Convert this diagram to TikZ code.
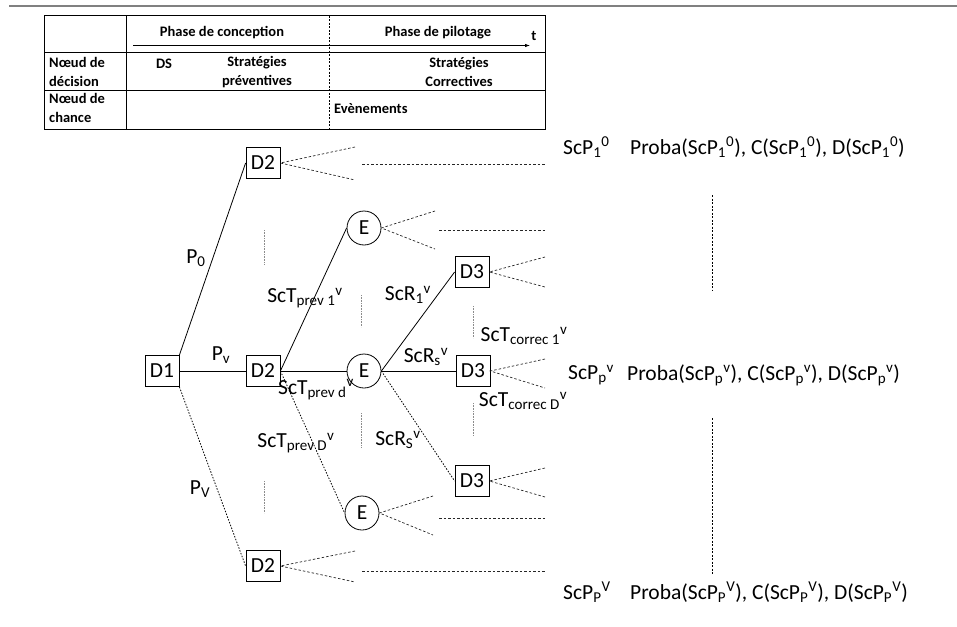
\documentclass[tikz,border=0pt]{standalone}
\usepackage{fontspec}
\setmainfont{Carlito}
\usetikzlibrary{arrows.meta}
\begin{document}
\begin{tikzpicture}[x=1pt,y=-1pt,
  dbox/.style={draw,line width=0.8pt,minimum width=34pt,minimum height=31pt,inner sep=0pt,font=\fontsize{21.5}{25}\selectfont},
  cnode/.style={draw,circle,line width=0.8pt,minimum size=34pt,inner sep=0pt,font=\fontsize{21.5}{25}\selectfont},
  tedge/.style={line width=0.8pt},
  dedge/.style={line width=0.8pt,dash pattern=on 1.5pt off 1.5pt},
  fan/.style={line width=0.7pt,dash pattern=on 2.5pt off 2pt,black!85},
  vdot/.style={line width=0.8pt,black!45,dash pattern=on 0.8pt off 0.8pt},
  rdash/.style={line width=0.8pt,dash pattern=on 2pt off 1.5pt},
  lbl/.style={font=\fontsize{21.5}{25}\selectfont,inner sep=0pt},
  tbl/.style={font=\fontsize{14.5}{19}\selectfont\bfseries,inner sep=0pt,align=center},
  tbll/.style={font=\fontsize{14.5}{19}\selectfont\bfseries,inner sep=0pt,align=left,anchor=west}
]
\useasboundingbox (0,0) rectangle (957,626);
% top rule
\coordinate (r1) at (9,6.5); \coordinate (r2) at (957,6.5);
\draw[line width=2pt,black!50] (r1) -- (r2);
% table
\coordinate (tl) at (44,15.7); \coordinate (br) at (545,129);
\draw[line width=1pt] (tl) rectangle (br);
\draw[line width=1pt] (44,53) -- (545,53);
\draw[line width=1pt] (44,90) -- (545,90);
\draw[line width=1pt] (126,15.7) -- (126,129);
\draw[line width=0.8pt,dash pattern=on 2pt off 1.5pt] (329,15.7) -- (329,129);
\coordinate (a1) at (133,45.5); \coordinate (a2) at (530,45.5);
\draw[line width=0.8pt,-{Latex[length=5pt,width=3.5pt]}] (a1) -- (a2);
\node[tbl] (pc) at (222,33) {Phase de conception};
\node[tbl] (pp) at (438,33) {Phase de pilotage};
\node[tbl] (tt) at (534,36) {t};
\node[tbll] (nd) at (49,72) {Nœud de\\décision};
\node[tbll] (nc) at (49,108) {Nœud de\\chance};
\node[tbl] (ds) at (164,64) {DS};
\node[tbl] (sp) at (257,72) {Stratégies\\préventives};
\node[tbl] (sc) at (459,72) {Stratégies\\Correctives};
\node[tbll] (ev) at (334,109) {Evènements};
% tree nodes
\node[dbox] (D1) at (162,371) {D1};
\node[dbox] (D2t) at (263,163) {D2};
\node[dbox] (D2m) at (263,371) {D2};
\node[dbox] (D2b) at (263,566) {D2};
\node[cnode] (Et) at (364,228) {E};
\node[cnode] (Em) at (364,371) {E};
\node[cnode] (Eb) at (362,513) {E};
\node[dbox] (D3t) at (472,272) {D3};
\node[dbox] (D3m) at (473,371) {D3};
\node[dbox] (D3b) at (472,481) {D3};
% tree edges
\draw[tedge] (D1.north east) -- (D2t.west);
\draw[tedge] (D1.east) -- (D2m.west);
\draw[dedge] (D1.south east) -- (D2b.west);
\draw[tedge] (D2m.east) -- (Et.west);
\draw[tedge] (D2m.east) -- (Em.west);
\draw[dedge] (D2m.east) -- (Eb.west);
\draw[tedge] (Em.east) -- (D3t.west);
\draw[tedge] (Em.east) -- (D3m.west);
\draw[dedge] (Em.east) -- (D3b.west);
% fans
\coordinate (f1a) at (355,147); \coordinate (f1b) at (355,180);
\draw[fan] (f1a) -- (D2t.east) -- (f1b);
\coordinate (h1a) at (362,164); \coordinate (h1b) at (545,164);
\draw[fan] (h1a) -- (h1b);
\coordinate (f2a) at (435,211); \coordinate (f2b) at (435,249);
\draw[fan] (f2a) -- (Et.east) -- (f2b);
\coordinate (h2a) at (439,230); \coordinate (h2b) at (545,230);
\draw[fan] (h2a) -- (h2b);
\coordinate (f3a) at (545,257); \coordinate (f3b) at (545,287);
\draw[fan] (f3a) -- (D3t.east) -- (f3b);
\coordinate (f4a) at (545,359); \coordinate (f4b) at (545,388);
\draw[fan] (f4a) -- (D3m.east) -- (f4b);
\coordinate (f5a) at (545,468); \coordinate (f5b) at (545,497);
\draw[fan] (f5a) -- (D3b.east) -- (f5b);
\coordinate (f6a) at (433,496); \coordinate (f6b) at (433,535);
\draw[fan] (f6a) -- (Eb.east) -- (f6b);
\coordinate (h6a) at (439,518); \coordinate (h6b) at (545,518);
\draw[fan] (h6a) -- (h6b);
\coordinate (f7a) at (355,551); \coordinate (f7b) at (355,582);
\draw[fan] (f7a) -- (D2b.east) -- (f7b);
\coordinate (h7a) at (362,571); \coordinate (h7b) at (545,571);
\draw[fan] (h7a) -- (h7b);
% vertical dots
\draw[vdot] (264,230) -- (264,264);
\draw[vdot] (264,481) -- (264,513);
\draw[vdot] (361,295) -- (361,327);
\draw[vdot] (361,413) -- (361,447);
\draw[vdot] (473,306) -- (473,338);
\draw[vdot] (473,403) -- (473,436);
\draw[rdash] (712,195) -- (712,290);
\draw[rdash] (712,418) -- (712,575);
% edge labels
\node[lbl] (lp0) at (196,258) {P\textsubscript{0}};
\node[lbl] (lpv) at (221,355) {P\textsubscript{v}};
\node[lbl] (lpV) at (200,489) {P\textsubscript{V}};
\node[lbl] (l1) at (305,298) {ScT\textsubscript{prev 1}\textsuperscript{v}};
\node[lbl] (l2) at (316,390) {ScT\textsubscript{prev d}\textsuperscript{v}};
\node[lbl] (l3) at (296,443) {ScT\textsubscript{prev D}\textsuperscript{v}};
\node[lbl] (l4) at (408,295) {ScR\textsubscript{1}\textsuperscript{v}};
\node[lbl] (l5) at (426,357) {ScR\textsubscript{s}\textsuperscript{v}};
\node[lbl] (l6) at (398,440) {ScR\textsubscript{S}\textsuperscript{v}};
\node[lbl] (l7) at (524,336) {ScT\textsubscript{correc 1}\textsuperscript{v}};
\node[lbl] (l8) at (523,401) {ScT\textsubscript{correc D}\textsuperscript{v}};
% right texts
\node[lbl,anchor=west] (s1) at (563,147) {ScP\textsubscript{1}\textsuperscript{0}};
\node[lbl,anchor=west] (p1) at (630,147) {Proba(ScP\textsubscript{1}\textsuperscript{0}), C(ScP\textsubscript{1}\textsuperscript{0}), D(ScP\textsubscript{1}\textsuperscript{0})};
\node[lbl,anchor=west] (s2) at (568,375) {ScP\textsubscript{p}\textsuperscript{v}};
\node[lbl,anchor=west] (p2) at (627,375) {Proba(ScP\textsubscript{p}\textsuperscript{v}), C(ScP\textsubscript{p}\textsuperscript{v}), D(ScP\textsubscript{p}\textsuperscript{v})};
\node[lbl,anchor=west] (s3) at (563,592) {ScP\textsubscript{P}\textsuperscript{V}};
\node[lbl,anchor=west] (p3) at (630,592) {Proba(ScP\textsubscript{P}\textsuperscript{V}), C(ScP\textsubscript{P}\textsuperscript{V}), D(ScP\textsubscript{P}\textsuperscript{V})};
\end{tikzpicture}
\end{document}
